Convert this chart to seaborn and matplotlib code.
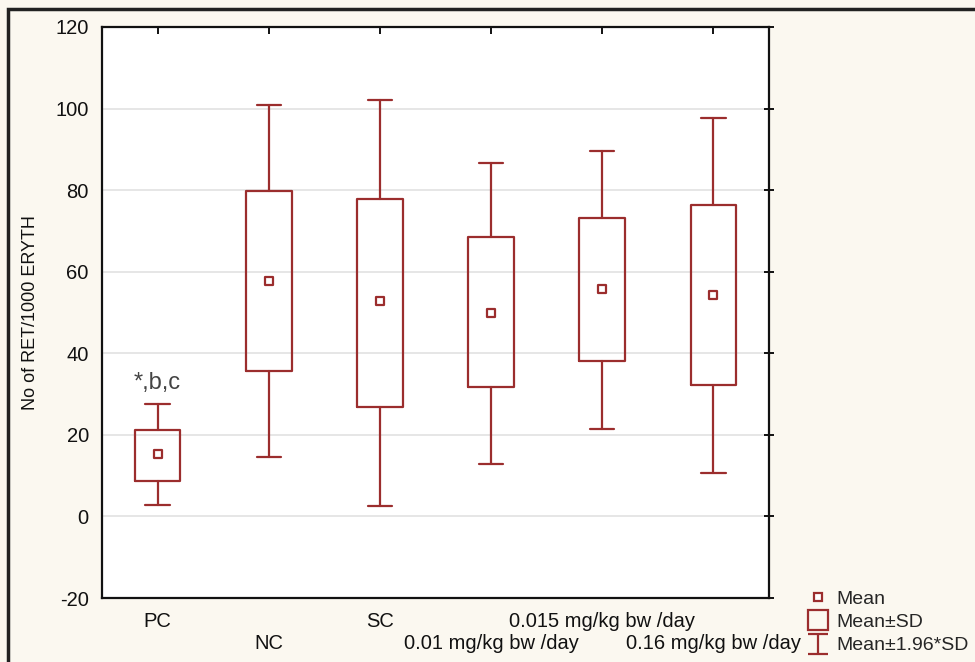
import numpy as np
import pandas as pd
import matplotlib.pyplot as plt
import seaborn as sns
from matplotlib.lines import Line2D
from matplotlib.path import Path
from matplotlib.patches import Rectangle

# Werte (Mittelwert, ±SD, ±1.96*SD)
groups = ['PC', 'NC', 'SC', '0.01 mg/kg bw /day', '0.015 mg/kg bw /day', '0.16 mg/kg bw /day']
means = [15.3, 57.7, 52.8, 50.0, 55.8, 54.4]
sd_low = [8.8, 35.6, 26.9, 31.8, 38.1, 32.2]
sd_high = [21.3, 79.8, 77.9, 68.6, 73.2, 76.4]
ci_low = [2.9, 14.6, 2.6, 12.9, 21.5, 10.7]
ci_high = [27.6, 100.9, 102.2, 86.7, 89.6, 97.6]

df = pd.DataFrame({'group': groups, 'mean': means})

red = '#9b2d2d'
bg = '#fbf8f0'

sns.set_style('white')
plt.rcParams['font.family'] = ['Liberation Sans', 'DejaVu Sans']
plt.rcParams['axes.unicode_minus'] = False

fig = plt.figure(figsize=(9.75, 6.62), dpi=100, facecolor=bg)
ax = fig.add_axes([102/975, 1-598/662, 667/975, 571/662])
ax.set_facecolor('white')

# Box = Mean±SD, Whisker = Mean±1.96*SD
stats = []
for i in range(len(groups)):
    stats.append({'med': means[i], 'q1': sd_low[i], 'q3': sd_high[i],
                  'whislo': ci_low[i], 'whishi': ci_high[i], 'fliers': []})
ax.bxp(stats, positions=range(len(groups)), widths=0.41, showfliers=False,
       boxprops=dict(color=red, lw=1.6), whiskerprops=dict(color=red, lw=1.6),
       capprops=dict(color=red, lw=1.6), medianprops=dict(lw=0), capwidths=0.22,
       manage_ticks=False, zorder=3)

# Mittelwerte
sns.scatterplot(data=df, x='group', y='mean', marker='s', s=36, facecolor='white',
                edgecolor=red, linewidth=1.6, ax=ax, zorder=4)

ax.set_xlim(-0.5, 5.5)
ax.set_ylim(-20, 120)
ax.set_yticks(range(-20, 121, 20))
ax.set_xticks(range(len(groups)))
ax.set_xticklabels(groups)
ax.yaxis.grid(True, color='#e2e2e2', lw=1.2, zorder=0)
ax.set_axisbelow(True)
ax.set_xlabel('')
ax.set_ylabel('No of RET/1000 ERYTH', fontsize=13, labelpad=12, color='#111111')

for s in ax.spines.values():
    s.set_color('#111111')
    s.set_linewidth(1.6)

ax.tick_params(axis='both', labelsize=14.5, colors='#111111', width=1.4,
               top=True, right=True)
ax.tick_params(axis='x', direction='in', length=5, pad=10)
ax.tick_params(axis='y', direction='inout', length=7, pad=6)
# zweite Zeile der Beschriftungen
for i, t in enumerate(ax.xaxis.get_major_ticks()):
    if i % 2 == 1:
        t.set_pad(26)

ax.text(0, 32.7, '*,b,c', ha='center', va='center', fontsize=17, color='#444444')

# Legende
ibeam = Path([(-1, 1), (1, 1), (0, 1), (0, -1), (-1, -1), (1, -1)],
             [Path.MOVETO, Path.LINETO, Path.MOVETO, Path.LINETO, Path.MOVETO, Path.LINETO])
handles = [
    Line2D([], [], ls='none', marker='s', ms=6, mfc='white', mec=red, mew=1.6),
    Line2D([], [], ls='none', marker='s', ms=14, mfc='none', mec=red, mew=1.6),
    Line2D([], [], ls='none', marker=ibeam, ms=14, mfc='none', mec=red, mew=1.6),
]
fig.legend(handles, ['Mean', 'Mean±SD', 'Mean±1.96*SD'], loc='upper left',
           bbox_to_anchor=(805/975, 1-590/662), frameon=False, fontsize=14,
           handlelength=1.3, handletextpad=0.3, labelspacing=0.3, borderpad=0,
           borderaxespad=0)

# Rahmen der Grafik
fig.patches.append(Rectangle((8/975, -0.1), 1.2, 1-9/662+0.1, transform=fig.transFigure,
                             fill=False, edgecolor='#222222', lw=2.5))

fig.savefig('out.png', dpi=100, facecolor=bg)
